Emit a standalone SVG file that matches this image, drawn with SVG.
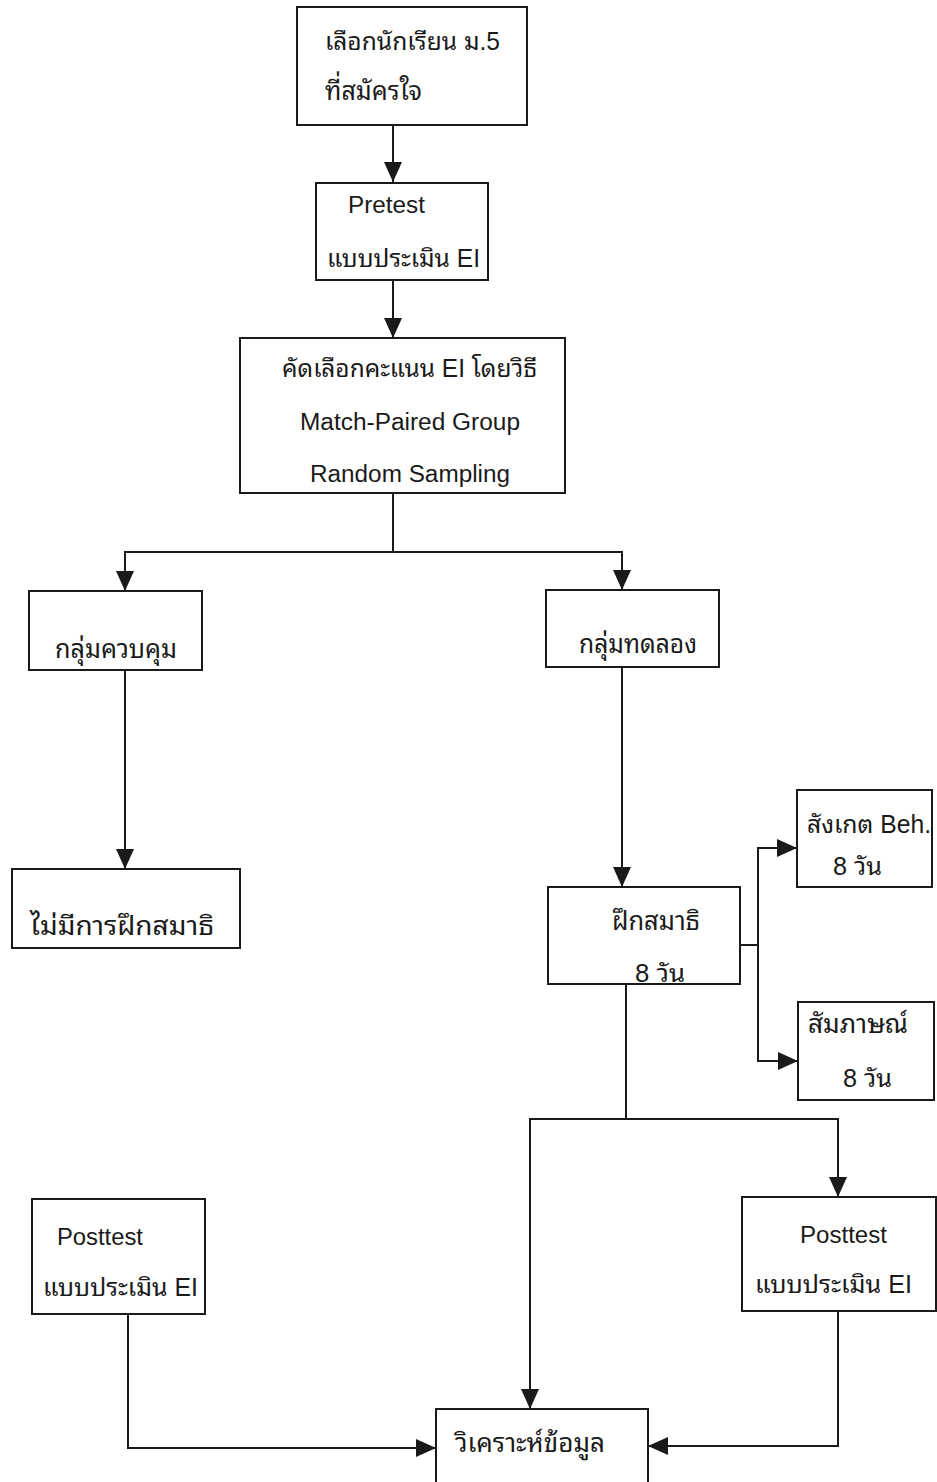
<svg xmlns="http://www.w3.org/2000/svg" width="937" height="1482" viewBox="0 0 937 1482">
<defs>
<style>
rect.box{fill:#fff;stroke:#1a1a1a;stroke-width:2}
path.c{fill:none;stroke:#1a1a1a;stroke-width:2}
text{font-family:"Liberation Sans","Noto Sans Thai Looped","Loma","Garuda","Noto Sans Thai","Noto Sans",sans-serif;font-size:23px;fill:#1a1a1a}
text.th{font-size:27px}
text.mx{font-size:25px}
</style>
<marker id="ah" viewBox="0 0 20 18" refX="20" refY="9" markerWidth="20" markerHeight="18" orient="auto" markerUnits="userSpaceOnUse"><path d="M0,0 L20,9 L0,18 Z" fill="#1a1a1a"/></marker>
</defs>
<rect width="937" height="1482" fill="#fff"/>
<g id="connectors">
<path class="c" d="M393,124 V182" marker-end="url(#ah)"/>
<path class="c" d="M393,280 V338" marker-end="url(#ah)"/>
<path class="c" d="M393,493 V552 H125 V591" marker-end="url(#ah)"/>
<path class="c" d="M393,552 H622 V590" marker-end="url(#ah)"/>
<path class="c" d="M125,670 V869" marker-end="url(#ah)"/>
<path class="c" d="M622,667 V887" marker-end="url(#ah)"/>
<path class="c" d="M740,945 H758 V848 H797" marker-end="url(#ah)"/>
<path class="c" d="M758,945 V1061 H798" marker-end="url(#ah)"/>
<path class="c" d="M626,984 V1119 H838 V1197" marker-end="url(#ah)"/>
<path class="c" d="M626,1119 H530 V1409" marker-end="url(#ah)"/>
<path class="c" d="M128,1314 V1448 H436" marker-end="url(#ah)"/>
<path class="c" d="M838,1311 V1446 H648" marker-end="url(#ah)"/>
</g>
<g id="n1"><rect class="box" x="297" y="7" width="230" height="118"/><text class="mx" x="325" y="50" textLength="175" lengthAdjust="spacingAndGlyphs">เลือกนักเรียน ม.5</text><text class="th" x="325" y="100" textLength="97" lengthAdjust="spacingAndGlyphs">ที่สมัครใจ</text></g>
<g id="n2"><rect class="box" x="316" y="183" width="172" height="97"/><text x="348" y="213" textLength="77" lengthAdjust="spacingAndGlyphs">Pretest</text><text class="mx" x="327" y="267" textLength="153" lengthAdjust="spacingAndGlyphs">แบบประเมิน EI</text></g>
<g id="n3"><rect class="box" x="240" y="338" width="325" height="155"/><text class="mx" x="282" y="377" textLength="255" lengthAdjust="spacingAndGlyphs">คัดเลือกคะแนน EI โดยวิธี</text><text x="300" y="430" textLength="220" lengthAdjust="spacingAndGlyphs">Match-Paired Group</text><text x="310" y="482" textLength="200" lengthAdjust="spacingAndGlyphs">Random Sampling</text></g>
<g id="n4"><rect class="box" x="29" y="591" width="173" height="79"/><text class="th" x="55" y="658" textLength="122" lengthAdjust="spacingAndGlyphs">กลุ่มควบคุม</text></g>
<g id="n5"><rect class="box" x="546" y="590" width="173" height="77"/><text class="th" x="579" y="653" textLength="118" lengthAdjust="spacingAndGlyphs">กลุ่มทดลอง</text></g>
<g id="n6"><rect class="box" x="12" y="869" width="228" height="79"/><text class="th" x="30" y="935" textLength="184" lengthAdjust="spacingAndGlyphs">ไม่มีการฝึกสมาธิ</text></g>
<g id="n7"><rect class="box" x="548" y="887" width="192" height="97"/><text class="th" x="612" y="930" textLength="88" lengthAdjust="spacingAndGlyphs">ฝึกสมาธิ</text><text class="mx" x="635" y="982" textLength="50" lengthAdjust="spacingAndGlyphs">8 วัน</text></g>
<g id="n8"><rect class="box" x="797" y="790" width="135" height="97"/><text class="mx" x="807" y="833" textLength="124" lengthAdjust="spacingAndGlyphs">สังเกต Beh.</text><text class="mx" x="833" y="875" textLength="49" lengthAdjust="spacingAndGlyphs">8 วัน</text></g>
<g id="n9"><rect class="box" x="798" y="1002" width="136" height="98"/><text class="th" x="808" y="1033" textLength="100" lengthAdjust="spacingAndGlyphs">สัมภาษณ์</text><text class="mx" x="843" y="1087" textLength="49" lengthAdjust="spacingAndGlyphs">8 วัน</text></g>
<g id="n10"><rect class="box" x="32" y="1199" width="173" height="115"/><text x="57" y="1245" textLength="86" lengthAdjust="spacingAndGlyphs">Posttest</text><text class="mx" x="43" y="1296" textLength="155" lengthAdjust="spacingAndGlyphs">แบบประเมิน EI</text></g>
<g id="n11"><rect class="box" x="742" y="1197" width="194" height="114"/><text x="800" y="1243" textLength="87" lengthAdjust="spacingAndGlyphs">Posttest</text><text class="mx" x="755" y="1293" textLength="157" lengthAdjust="spacingAndGlyphs">แบบประเมิน EI</text></g>
<g id="n12"><rect class="box" x="436" y="1409" width="212" height="80"/><text class="th" x="455" y="1452" textLength="150" lengthAdjust="spacingAndGlyphs">วิเคราะห์ข้อมูล</text></g>
</svg>
